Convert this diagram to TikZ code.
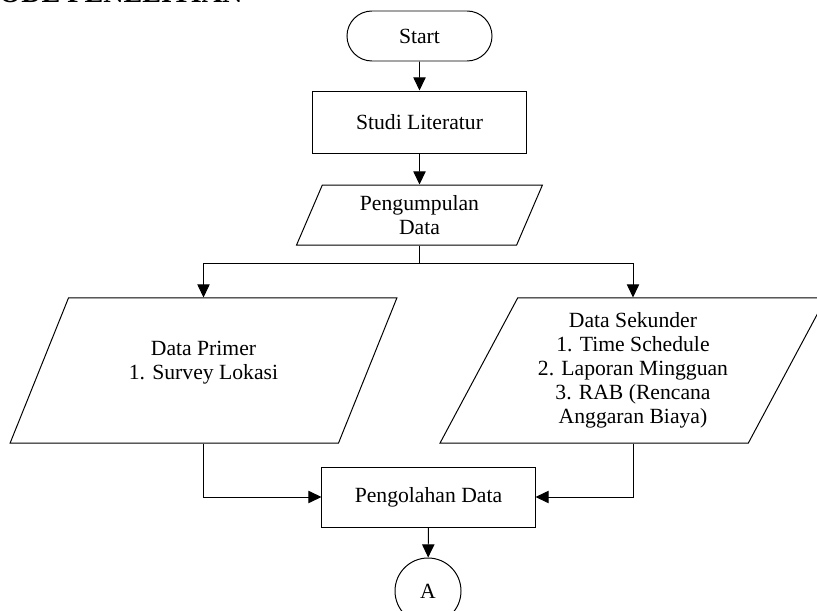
\documentclass[tikz,border=0pt]{standalone}
\usepackage{fontspec}
\setmainfont{Liberation Serif}
\usepackage{tikz}
\usetikzlibrary{shapes,arrows,positioning,calc,arrows.meta}

\begin{document}
\begin{tikzpicture}[
    x=0.025cm,y=-0.025cm,
    font=\fontsize{15.4}{17}\selectfont,
    every node/.style={line width=0.7pt},
    terminal/.style={rounded rectangle,draw,minimum width=3.625cm,minimum height=1.25cm,inner sep=0pt},
    box/.style={rectangle,draw,minimum width=5.325cm,minimum height=1.55cm,align=center,inner sep=0pt},
    io/.style={trapezium,draw,trapezium stretches=true,align=center,inner sep=0pt},
    connector/.style={circle,draw,minimum size=1.65cm,inner sep=0pt},
    arrow/.style={-{Triangle[length=0.33cm,width=0.31cm]},line width=0.7pt},
    line/.style={line width=0.7pt}
    ]

    \useasboundingbox (0,0) rectangle (817,611);

    \node[anchor=base east,inner sep=0pt,font=\fontsize{20}{22}\selectfont\bfseries] (judul) at (243,3) {ODE PENELITIAN};

    \node[terminal] (start) at (419.5,36) {Start};
    \node[box,below=0.725cm of start] (studi) {Studi Literatur};
    \node[io,trapezium left angle=68,trapezium right angle=112,
          minimum width=6.15cm,minimum height=1.5cm,below=0.775cm of studi] (kumpul) {Pengumpulan\\Data};

    \node[io,trapezium left angle=61,trapezium right angle=119,
          minimum width=9.675cm,minimum height=3.625cm] (primer) at (203.5,370.5) {Data Primer\\1. Survey Lokasi\\[-0.1cm]};
    \node[io,trapezium left angle=61,trapezium right angle=119,
          minimum width=9.675cm,minimum height=3.625cm] (sekunder) at (633,370.5) {Data Sekunder\\1. Time Schedule\\2. Laporan Mingguan\\3. RAB (Rencana\\Anggaran Biaya)};

    \node[box,minimum height=1.5cm] (olah) at (428.5,497) {Pengolahan Data};
    \node[connector] (konektor) at (428,591) {A};

    \coordinate (cabang) at (kumpul.south |- 0,263);

    \draw[arrow] (start)--(studi);
    \draw[arrow] (studi)--(kumpul);

    \draw[line] (kumpul.south)--(cabang);
    \draw[arrow] (cabang)-|(primer.center |- primer.north);
    \draw[arrow] (cabang)-|(sekunder.center |- sekunder.north);

    \draw[arrow] (primer.center |- primer.south)|-(olah.west);
    \draw[arrow] (sekunder.center |- sekunder.south)|-(olah.east);

    \draw[arrow] (olah)--(konektor);

  \end{tikzpicture}
\end{document}
